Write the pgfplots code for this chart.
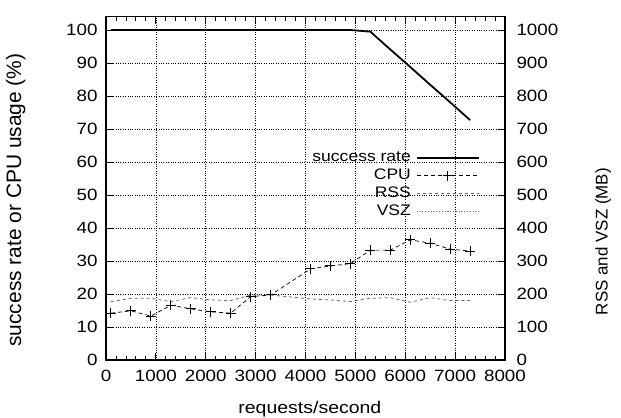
\documentclass[border=0pt]{standalone}
\usepackage{fontspec}
\setmainfont{Liberation Sans}
\newfontfamily\stretchfont{Liberation Sans}[FakeStretch=1.15]
\usepackage{pgfplots}
\usepackage{pgfplotstable}
\pgfplotsset{compat=1.18}

\pgfplotstableread{
x     succ  cpu   rss   vsz
100   100   14.2  177   1120
500   100   14.9  187   1120
900   100   13.3  187   1120
1300  100   16.6  177   1120
1700  100   15.5  189   1120
2100  100   14.6  182   1120
2500  100   14.2  180   1120
2900  100   19.2  197   1120
3300  100   19.7  197   1120
4100  100   27.6  185   1120
4500  100   28.5  182   1120
4900  100   29.2  177   1120
5300  99.5  33.3  187   1120
5700  94.1  33.3  189   1120
6100  88.8  36.4  175   1120
6500  83.4  35.4  189   1120
6900  78.1  33.6  180   1120
7300  72.7  33.0  180   1120
}\data

\begin{document}
\begin{tikzpicture}[font=\fontsize{16.5}{19}\selectfont]
\pgfplotsset{
  common/.style={
    scale only axis, width=399bp, height=343.2bp,
    xmin=0, xmax=8000,
    tick align=inside,
    major tick length=7bp, minor tick length=4bp,
    tick style={black, line width=0.9pt},
    axis line style={line width=1.4pt},
    /pgf/number format/assume math mode=true,
    /pgf/number format/set thousands separator={},
    tick label style={font=\stretchfont\fontsize{16.4}{19}\selectfont},
  }
}
\begin{axis}[common,
  ymin=0, ymax=104,
  xtick={0,1000,...,8000}, ytick={0,10,...,100},
  minor x tick num=4,
  xtick pos=both, ytick pos=left,
  grid=major, grid style={dotted, black, line width=0.7pt},
  xlabel={requests/second},
  ylabel={success rate or CPU usage (\%)},
  xlabel style={at={(axis description cs:0.511,-0.143)}, anchor=center, font=\stretchfont\fontsize{17}{20}\selectfont},
  ylabel style={at={(axis description cs:-0.226,0.466)}, anchor=center, font=\fontsize{21}{25}\selectfont},
  yticklabel style={xshift=-5bp},
  xticklabel style={yshift=-7bp},
  legend plot pos=right,
  legend cell align=right,
  legend image code/.code={\draw[mark repeat=2,mark phase=2,#1] plot coordinates {(0bp,0bp) (31bp,0bp) (62bp,0bp)};},
  legend style={draw=none, fill=none, inner sep=0pt, at={(rel axis cs:0.937,0.616)}, anchor=north east,
    font=\stretchfont\fontsize{15.3}{18}\selectfont, row sep=0bp,
    nodes={text height=11bp, text depth=3bp, inner sep=2bp},
    /tikz/every odd column/.style={column sep=3bp}},
]
\addplot[black, line width=1.8pt, no markers] table[x=x, y=succ] {\data};
\addlegendentry{success rate}
\addplot[black, line width=0.7pt, dash pattern=on 4bp off 3bp, mark=+, mark size=5bp, mark options={solid, line width=1pt}] table[x=x, y=cpu] {\data};
\addlegendentry{CPU}
\addlegendimage{black!60, line width=0.8pt, dash pattern=on 3bp off 3bp}
\addlegendentry{RSS}
\addlegendimage{black!60, line width=0.8pt, dotted}
\addlegendentry{VSZ}
\end{axis}
\begin{axis}[common,
  ymin=0, ymax=1040,
  axis x line=none, axis y line*=right,
  ytick={0,100,...,1000},
  ylabel={RSS and VSZ (MB)},
  ylabel style={at={(axis description cs:1.246,0.345)}, anchor=center, font=\fontsize{17}{20}\selectfont},
  yticklabel style={xshift=8bp},
]
\addplot[black!60, line width=0.8pt, dash pattern=on 3bp off 3bp, no markers] table[x=x, y=rss] {\data};
\addplot[black!60, line width=0.8pt, dotted, no markers] table[x=x, y=vsz] {\data};
\end{axis}
\pgfresetboundingbox
\path[use as bounding box] (-106bp,-58bp) rectangle (515bp,360bp);
\end{tikzpicture}
\end{document}
